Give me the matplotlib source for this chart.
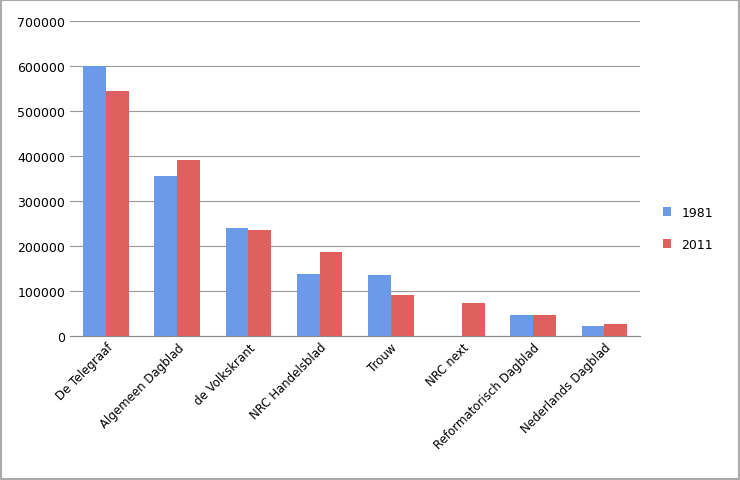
import matplotlib
matplotlib.use("Agg")
import matplotlib.pyplot as plt
import numpy as np

categories = ["De Telegraaf", "Algemeen Dagblad", "de Volkskrant", "NRC Handelsblad",
              "Trouw", "NRC next", "Reformatorisch Dagblad", "Nederlands Dagblad"]
v1981 = [600000, 355000, 240000, 137000, 135000, 0, 45000, 22000]
v2011 = [543000, 390000, 235000, 185000, 90000, 72000, 47000, 25000]
yticks = [0, 100000, 200000, 300000, 400000, 500000, 600000, 700000]

fig = plt.figure(figsize=(7.40, 4.81), dpi=100)
ax = fig.add_axes([0.095, 0.30, 0.77, 0.655])
x = np.arange(len(categories))
w = 0.32
ax.bar(x - w/2, v1981, w, color="#6b9be8", label="1981", zorder=3)
ax.bar(x + w/2, v2011, w, color="#e06060", label="2011", zorder=3)
ax.set_xlim(-0.5, len(categories) - 0.5)
ax.set_ylim(0, 700000)
ax.set_yticks(yticks)
ax.set_yticklabels([str(t) for t in yticks], fontsize=9)
ax.yaxis.grid(True, color="#999999", linewidth=0.8, zorder=0)
ax.set_xticks(x)
ax.set_xticklabels(categories, rotation=45, ha="right", rotation_mode="anchor", fontsize=8.5)
for s in ["top", "right", "left"]:
    ax.spines[s].set_visible(False)
ax.spines["bottom"].set_color("#888888")
ax.tick_params(axis="both", length=0)
ax.legend(loc="center left", bbox_to_anchor=(1.02, 0.34), frameon=False, fontsize=9,
          handlelength=0.7, handleheight=0.7, labelspacing=1.5)
fig.patches.append(plt.Rectangle((0.002, 0.002), 0.996, 0.996, transform=fig.transFigure,
                                 fill=False, edgecolor="#aaaaaa", linewidth=1.5))
fig.savefig("out.png", dpi=100)
